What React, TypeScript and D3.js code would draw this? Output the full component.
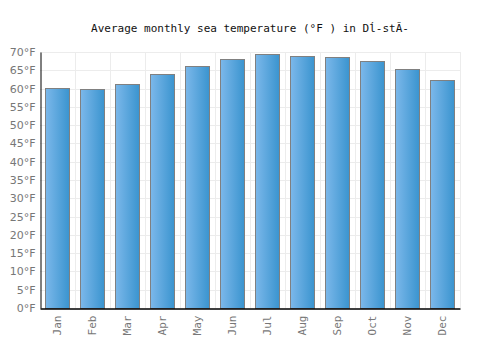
import { useEffect, useRef } from 'react';
import * as d3 from 'd3';

const months = ['Jan', 'Feb', 'Mar', 'Apr', 'May', 'Jun', 'Jul', 'Aug', 'Sep', 'Oct', 'Nov', 'Dec'];
const temps = [60.2, 59.9, 61.3, 64.0, 66.2, 68.1, 69.5, 68.9, 68.6, 67.5, 65.4, 62.4];
const yTicks = d3.range(0, 75, 5);
const title = 'Average monthly sea temperature (°F ) in Dĺ-stĂ-';

function App() {
  const ref = useRef<SVGSVGElement>(null);

  useEffect(() => {
    drawChart()
    // eslint-disable-next-line
  }, [])

  function drawChart() {
    const config = { width: 500, height: 350, left: 40, right: 40, top: 52, bottom: 42 };
    const svg = d3.select(ref.current);
    svg.selectAll('*').remove();

    const xScale = d3.scaleBand<string>()
      .domain(months)
      .range([config.left, config.width - config.right])
      .paddingInner(0.314)
      .paddingOuter(0.157);

    const yScale = d3.scaleLinear()
      .domain([0, 70])
      .range([config.height - config.bottom, config.top]);

    const defs = svg.append('defs');
    const grad = defs.append('linearGradient').attr('id', 'barGrad')
      .attr('x1', '0%').attr('x2', '100%').attr('y1', '0%').attr('y2', '0%');
    grad.append('stop').attr('offset', '0%').attr('stop-color', '#7cb8ea');
    grad.append('stop').attr('offset', '100%').attr('stop-color', '#3a94cf');

    svg.append('text')
      .attr('x', config.width / 2)
      .attr('y', 32)
      .attr('text-anchor', 'middle')
      .style('font-family', '"DejaVu Sans Mono", monospace')
      .style('font-size', '11px')
      .style('fill', '#111')
      .text(title);

    // grid
    const grid = svg.append('g');
    grid.selectAll('line.h').data(yTicks.filter(t => t > 0)).enter().append('line')
      .attr('x1', config.left).attr('x2', config.width - config.right)
      .attr('y1', d => Math.round(yScale(d)) + 0.5).attr('y2', d => Math.round(yScale(d)) + 0.5)
      .style('stroke', '#ececec');
    const step = xScale.step();
    grid.selectAll('line.v').data(months).enter().append('line')
      .attr('x1', (_, i) => Math.round(config.left + step * (i + 1)) + 0.5)
      .attr('x2', (_, i) => Math.round(config.left + step * (i + 1)) + 0.5)
      .attr('y1', config.top).attr('y2', config.height - config.bottom)
      .style('stroke', '#ececec');

    // bars
    svg.append('g').selectAll('rect').data(temps).enter().append('rect')
      .attr('x', (_, i) => Math.round(xScale(months[i]) as number) + 0.5)
      .attr('y', d => Math.round(yScale(d)) + 0.5)
      .attr('width', Math.round(xScale.bandwidth()))
      .attr('height', d => Math.round(yScale(0)) - Math.round(yScale(d)))
      .style('fill', 'url(#barGrad)')
      .style('stroke', '#808080')
      .style('stroke-width', 1);

    // axes
    const yAxis = d3.axisLeft(yScale).tickValues(yTicks).tickSize(0).tickFormat(d => `${d}°F`);
    const yG = svg.append('g').attr('transform', `translate(${config.left + 0.5},0)`).call(yAxis);
    yG.select('.domain').style('stroke', '#000');
    yG.selectAll('.tick text')
      .style('font-family', '"DejaVu Sans", sans-serif')
      .style('font-size', '11px')
      .style('fill', '#777')
      .attr('x', -5);

    const xAxis = d3.axisBottom(xScale).tickSize(0);
    const xG = svg.append('g').attr('transform', `translate(0,${Math.round(yScale(0)) + 0.5})`).call(xAxis);
    xG.select('.domain').style('stroke', '#000').style('stroke-width', 1.5);
    xG.selectAll('.tick text')
      .style('font-family', '"DejaVu Sans Mono", monospace')
      .style('font-size', '11px')
      .style('fill', '#777')
      .attr('transform', 'rotate(-90)')
      .attr('text-anchor', 'end')
      .attr('x', -7)
      .attr('y', 0)
      .attr('dy', '0.35em');
  }

  return (
    <svg ref={ref} width={500} height={350} style={{ display: 'block', position: 'absolute', left: 0, top: 0 }} />
  );
}

export default App;
